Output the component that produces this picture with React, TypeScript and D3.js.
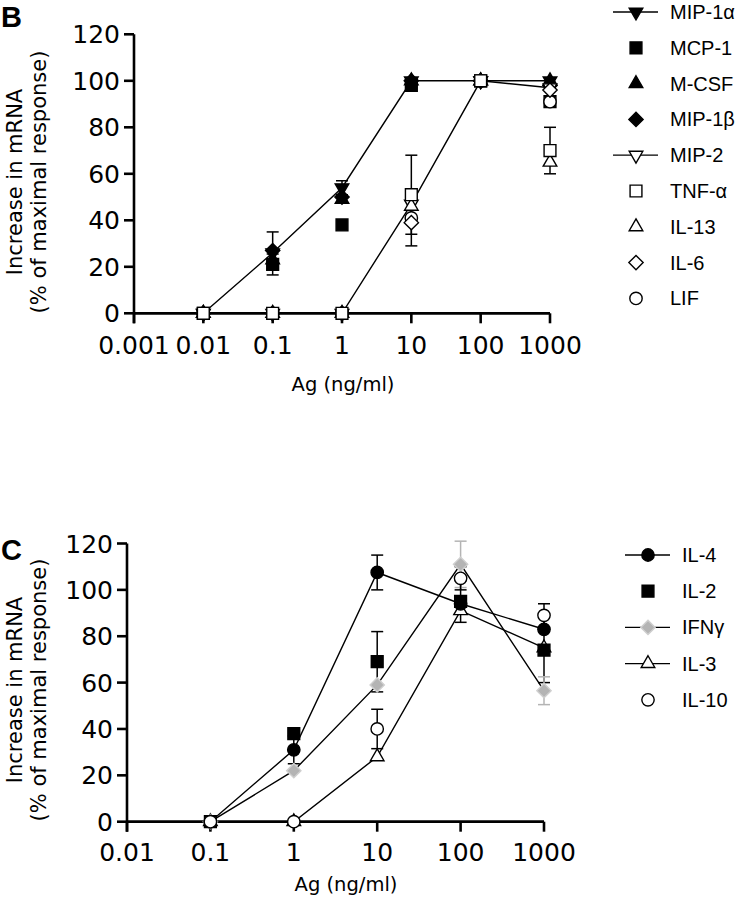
import React from "react";
import * as d3 from "d3";

// panel B: dose series (ng/ml)
const doseB = [0.01, 0.1, 1, 10, 100, 1000];
const mip1a = [0, 26, 54, 100, 100, 100];
const mip1aErr = [0, 0, 3, 0, 0, 0];
const mcp1 = [0, 21, 38, 98, 100, 91];
const mcp1Err = [0, 4.5, 0, 0, 0, 0];
const mcsf = [0, 23, 49, 100, 100, 100];
const mip1b = [0, 27, 50, 100, 100, 98];
const mip1bErr = [0, 8, 0, 0, 0, 0];
const mip2 = [0, 0, 0, 47, 100, 97];
const tnfa = [0, 0, 0, 51, 100, 70];
const tnfaErr = [0, 0, 0, 17, 0, 10];
const il13 = [0, 0, 0, 46, 100, 65];
const il6 = [0, 0, 0, 39, 100, 96];
const il6Err = [0, 0, 0, 10, 0, 0];
const lif = [0, 0, 0, 41, 100, 91];
const ticksB = ["0.001", "0.01", "0.1", "1", "10", "100", "1000"];

// panel C
const doseC = [0.1, 1, 10, 100, 1000];
const il4 = [0, 31, 107.5, 94, 83];
const il4Err = [0, 6, 7.5, 0, 0];
const il2 = [0, 38, 69, 95, 74];
const il2Err = [0, 0, 13, 9, 14];
const ifng = [0, 22, 59, 111, 56.5];
const ifngErr = [0, 0, 0, 10, 6];
const il3 = [0, 0, 28, 91, 75];
const il10 = [0, 0, 40, 105, 89];
const il10Err = [0, 0, 8.5, 5, 5];
const ticksC = ["0.01", "0.1", "1", "10", "100", "1000"];

const yTicks = [0, 20, 40, 60, 80, 100, 120];

const GREY = "#b4b4b4";
const axisFont = "DejaVu Sans, sans-serif";
const legendFont = "Liberation Sans, Arial, sans-serif";

type Shape = "square" | "circle" | "tri" | "triDown" | "diamond";
type Series = {
  name: string;
  values: number[];
  err?: number[];
  shape: Shape;
  fill: string;
  stroke: string;
  line: boolean;
};

const symbolPath = (shape: Shape, size: number) => {
  const type =
    shape === "square" ? d3.symbolSquare
    : shape === "circle" ? d3.symbolCircle
    : shape === "diamond" ? d3.symbolDiamond2
    : d3.symbolTriangle;
  return d3.symbol().type(type).size(size)() as string;
};

const sizeOf: Record<Shape, number> = {
  square: 140,
  circle: 120,
  tri: 80,
  triDown: 80,
  diamond: 130,
};

function Marker({ s, x, y }: { s: Series; x: number; y: number }) {
  const rot = s.shape === "triDown" ? " rotate(180)" : "";
  return (
    <path
      d={symbolPath(s.shape, sizeOf[s.shape])}
      transform={`translate(${x},${y})${rot}`}
      fill={s.fill}
      stroke={s.stroke}
      strokeWidth={1.4}
    />
  );
}

function Panel({
  letter, letterY, doses, series, order, xDomain, xRange, yRange, tickLabels,
  tickBaseline, titleX, titleY, yTitleY, legendX, legendY, legendStep,
}: {
  letter: string; letterY: number; doses: number[]; series: Series[]; order: number[];
  xDomain: [number, number]; xRange: [number, number]; yRange: [number, number];
  tickLabels: string[]; tickBaseline: number; titleX: number; titleY: number;
  yTitleY: number; legendX: number; legendY: number; legendStep: number;
}) {
  const x = d3.scaleLog().domain(xDomain).range(xRange);
  const y = d3.scaleLinear().domain([0, 120]).range(yRange);
  const line = d3
    .line<number>()
    .x((_, i) => x(doses[i]))
    .y((v) => y(v));
  const x0 = xRange[0];
  const y0 = y(0);
  const drawn = order.map((i) => series[i]);

  return (
    <g>
      <text x={1} y={letterY} fontFamily={legendFont} fontWeight="bold" fontSize={29}>
        {letter}
      </text>
      {/* y axis title */}
      <g transform={`translate(22,${yTitleY}) rotate(-90)`}>
        <text textAnchor="middle" fontFamily={axisFont} fontSize={21}>Increase in mRNA</text>
      </g>
      <g transform={`translate(46,${yTitleY}) rotate(-90)`}>
        <text textAnchor="middle" fontFamily={axisFont} fontSize={21}>(% of maximal response)</text>
      </g>
      {/* axes */}
      <line x1={x0} x2={x0} y1={y(120)} y2={y0 + 10} stroke="#000" strokeWidth={2.6} />
      <line x1={x0} x2={xRange[1]} y1={y0} y2={y0} stroke="#000" strokeWidth={2.8} />
      {yTicks.map((t) => (
        <g key={t}>
          <line x1={x0 - 10} x2={x0} y1={y(t)} y2={y(t)} stroke="#000" strokeWidth={2.6} />
          <text x={x0 - 14} y={y(t) + 9} textAnchor="end" fontFamily={axisFont} fontSize={25}>
            {t}
          </text>
        </g>
      ))}
      {tickLabels.map((t) => (
        <g key={t}>
          <line x1={x(+t)} x2={x(+t)} y1={y0} y2={y0 + 10} stroke="#000" strokeWidth={2.6} />
          <text x={x(+t)} y={tickBaseline} textAnchor="middle" fontFamily={axisFont} fontSize={25}>
            {t}
          </text>
        </g>
      ))}
      <text x={titleX} y={titleY} textAnchor="middle" fontFamily={axisFont} fontSize={19.5}>
        Ag (ng/ml)
      </text>
      {/* connecting lines */}
      {series.filter((s) => s.line).map((s) => (
        <path key={s.name} d={line(s.values) as string} fill="none" stroke="#000" strokeWidth={1.4} />
      ))}
      {/* error bars */}
      {series.map((s) =>
        (s.err || []).map((e, i) =>
          e > 0 ? (
            <g key={s.name + i} stroke={s.fill === GREY ? GREY : "#000"} strokeWidth={1.5}>
              <line x1={x(doses[i])} x2={x(doses[i])} y1={y(s.values[i] + e)} y2={y(s.values[i] - e)} />
              <line x1={x(doses[i]) - 6} x2={x(doses[i]) + 6} y1={y(s.values[i] + e)} y2={y(s.values[i] + e)} />
              <line x1={x(doses[i]) - 6} x2={x(doses[i]) + 6} y1={y(s.values[i] - e)} y2={y(s.values[i] - e)} />
            </g>
          ) : null
        )
      )}
      {/* markers */}
      {drawn.map((s) =>
        s.values.map((v, i) => <Marker key={s.name + i} s={s} x={x(doses[i])} y={y(v)} />)
      )}
      {/* legend */}
      {series.map((s, i) => {
        const ly = legendY + i * legendStep;
        return (
          <g key={"lg" + s.name}>
            {s.line && (
              <line x1={legendX - 23} x2={legendX + 22} y1={ly} y2={ly} stroke="#000" strokeWidth={1.3} />
            )}
            <Marker s={s} x={legendX} y={ly} />
            <text x={legendX + 34} y={ly + 7} fontFamily={legendFont} fontSize={20}>
              {s.name}
            </text>
          </g>
        );
      })}
    </g>
  );
}

const seriesB: Series[] = [
  { name: "MIP-1α", values: mip1a, err: mip1aErr, shape: "triDown", fill: "#000", stroke: "#000", line: true },
  { name: "MCP-1", values: mcp1, err: mcp1Err, shape: "square", fill: "#000", stroke: "#000", line: false },
  { name: "M-CSF", values: mcsf, shape: "tri", fill: "#000", stroke: "#000", line: false },
  { name: "MIP-1β", values: mip1b, err: mip1bErr, shape: "diamond", fill: "#000", stroke: "#000", line: false },
  { name: "MIP-2", values: mip2, shape: "triDown", fill: "#fff", stroke: "#000", line: true },
  { name: "TNF-α", values: tnfa, err: tnfaErr, shape: "square", fill: "#fff", stroke: "#000", line: false },
  { name: "IL-13", values: il13, shape: "tri", fill: "#fff", stroke: "#000", line: false },
  { name: "IL-6", values: il6, err: il6Err, shape: "diamond", fill: "#fff", stroke: "#000", line: false },
  { name: "LIF", values: lif, shape: "circle", fill: "#fff", stroke: "#000", line: false },
];

const seriesC: Series[] = [
  { name: "IL-4", values: il4, err: il4Err, shape: "circle", fill: "#000", stroke: "#000", line: true },
  { name: "IL-2", values: il2, err: il2Err, shape: "square", fill: "#000", stroke: "#000", line: false },
  { name: "IFNγ", values: ifng, err: ifngErr, shape: "diamond", fill: GREY, stroke: "#cfcfcf", line: true },
  { name: "IL-3", values: il3, shape: "tri", fill: "#fff", stroke: "#000", line: true },
  { name: "IL-10", values: il10, err: il10Err, shape: "circle", fill: "#fff", stroke: "#000", line: false },
];

// marker stacking: filled first, open squares on top
const orderB = [0, 2, 3, 1, 4, 6, 8, 7, 5];
const orderC = [3, 2, 0, 1, 4];

export default function App() {
  return (
    <svg
      width={740}
      height={900}
      style={{ position: "absolute", left: 0, top: 0, background: "#fff" }}
    >
      <Panel
        letter="B" letterY={27} doses={doseB} series={seriesB} order={orderB}
        xDomain={[0.001, 1000]} xRange={[134, 550]} yRange={[313.3, 34.3]}
        tickLabels={ticksB} tickBaseline={354} titleX={343} titleY={391}
        yTitleY={182} legendX={636} legendY={12} legendStep={35.8}
      />
      <Panel
        letter="C" letterY={560} doses={doseC} series={seriesC} order={orderC}
        xDomain={[0.01, 1000]} xRange={[127, 544]} yRange={[821.7, 543.5]}
        tickLabels={ticksC} tickBaseline={861} titleX={346} titleY={891}
        yTitleY={690} legendX={648} legendY={555} legendStep={36.2}
      />
    </svg>
  );
}
